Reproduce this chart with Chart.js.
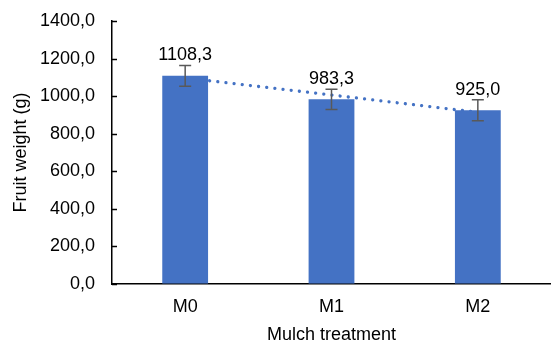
<!DOCTYPE html>
<html>
<head>
<meta charset="utf-8">
<script src="https://cdn.jsdelivr.net/npm/chart.js@4.4.1/dist/chart.umd.min.js"></script>
<style>
  html, body { margin: 0; padding: 0; background: #fff; }
  #wrap { width: 551px; height: 344px; }
</style>
</head>
<body>
<div id="wrap"><canvas id="fruitWeight"></canvas></div>
<script>
var treatments = ["M0", "M1", "M2"]
var fruitWeight = [1108.3, 983.3, 925.0]
var errors = [55, 54, 56]
var trendLine = [1097, 1006, 914]
var yTicks = [0, 200, 400, 600, 800, 1000, 1200, 1400]

function comma(v) {
    return v.toFixed(1).replace(".", ",")
}

// error bars, value labels and the inward tick marks on the y axis
var extras = {
    id: "extras",
    afterDatasetsDraw: function (chart) {
        var ctx = chart.ctx
        var x = chart.scales.x
        var y = chart.scales.y

        ctx.save()
        ctx.strokeStyle = "#000"
        ctx.lineWidth = 1.5
        for (var i = 0; i < yTicks.length; i++) {
            var ty = Math.round(y.getPixelForValue(yTicks[i])) + 0.5
            ctx.beginPath()
            ctx.moveTo(x.left, ty)
            ctx.lineTo(x.left + 5, ty)
            ctx.stroke()
        }

        ctx.strokeStyle = "#595959"
        ctx.lineWidth = 1.5
        ctx.fillStyle = "#000"
        ctx.font = "18px 'Liberation Sans', Arial, sans-serif"
        ctx.textAlign = "center"
        ctx.textBaseline = "alphabetic"
        for (i = 0; i < fruitWeight.length; i++) {
            var cx = x.getPixelForValue(i)
            var top = y.getPixelForValue(fruitWeight[i] + errors[i])
            var bottom = y.getPixelForValue(fruitWeight[i] - errors[i])
            ctx.beginPath()
            ctx.moveTo(cx, top)
            ctx.lineTo(cx, bottom)
            ctx.moveTo(cx - 6, top)
            ctx.lineTo(cx + 6, top)
            ctx.moveTo(cx - 6, bottom)
            ctx.lineTo(cx + 6, bottom)
            ctx.stroke()
            ctx.fillText(comma(fruitWeight[i]), cx, top - 5)
        }
        ctx.restore()
    }
}

var canvas = document.querySelector("#fruitWeight")

var barChart = new Chart(canvas, {
    type: "bar",
    data: {
        labels: treatments,
        datasets: [{
            type: "bar",
            label: "Fruit weight",
            data: fruitWeight,
            backgroundColor: "#4472C4",
            barPercentage: 0.313,
            categoryPercentage: 1,
            order: 1
        }, {
            type: "line",
            label: "Trend",
            data: trendLine,
            borderColor: "#4472C4",
            borderWidth: 3.3,
            borderDash: [0.01, 8.2],
            borderCapStyle: "round",
            pointRadius: 0,
            fill: false,
            order: 2
        }]
    },
    options: {
        responsive: true,
        maintainAspectRatio: false,
        animation: false,
        layout: { padding: { top: 21, right: 0, left: 0, bottom: 0 } },
        plugins: {
            legend: { display: false },
            tooltip: { enabled: false }
        },
        scales: {
            x: {
                grid: { display: true, drawOnChartArea: false, drawTicks: false },
                border: { color: "#000", width: 1.5 },
                ticks: {
                    color: "#000",
                    padding: 12,
                    font: { family: "'Liberation Sans', Arial, sans-serif", size: 18 }
                },
                title: {
                    display: true,
                    text: "Mulch treatment",
                    color: "#000",
                    padding: { top: 0, bottom: 0 },
                    font: { family: "'Liberation Sans', Arial, sans-serif", size: 18, lineHeight: 1 }
                },
                afterFit: function (scale) {
                    scale.height = 60
                    scale.paddingLeft = 0
                    scale.paddingRight = 0
                }
            },
            y: {
                min: 0,
                max: 1400,
                grid: { display: true, drawOnChartArea: false, drawTicks: false },
                border: { color: "#000", width: 1.5 },
                afterBuildTicks: function (scale) {
                    scale.ticks = yTicks.map(function (v) { return { value: v } })
                },
                ticks: {
                    color: "#000",
                    padding: 17,
                    font: { family: "'Liberation Sans', Arial, sans-serif", size: 18 },
                    callback: function (v) { return comma(v) }
                },
                title: {
                    display: true,
                    text: "Fruit weight (g)",
                    color: "#000",
                    padding: { top: 10, bottom: 0 },
                    font: { family: "'Liberation Sans', Arial, sans-serif", size: 18 }
                },
                afterFit: function (scale) {
                    scale.width = 112
                    scale.paddingTop = 0
                    scale.paddingBottom = 0
                }
            }
        }
    },
    plugins: [extras]
});
</script>
</body>
</html>
